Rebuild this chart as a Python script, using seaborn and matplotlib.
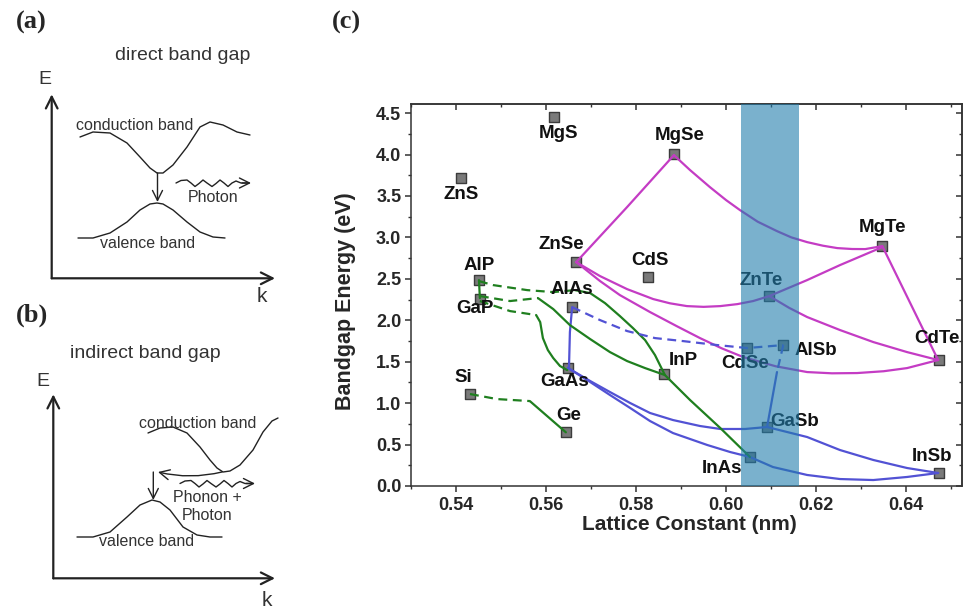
import matplotlib
matplotlib.use("Agg")
import matplotlib.pyplot as plt
from matplotlib.ticker import MultipleLocator, FormatStrFormatter
import seaborn as sns

# ---- panel (c) data: lattice constant (nm) / band gap (eV)
names = ["ZnS", "MgS", "MgSe", "ZnSe", "CdS", "AlP", "GaP", "AlAs", "MgTe", "ZnTe",
         "CdTe", "CdSe", "AlSb", "InP", "GaAs", "Si", "Ge", "GaSb", "InAs", "InSb"]
lattice = [0.5410, 0.5618, 0.5885, 0.5666, 0.5827, 0.5451, 0.5453, 0.5658, 0.6347, 0.6096,
           0.6473, 0.6046, 0.6127, 0.5863, 0.5648, 0.5431, 0.5644, 0.6090, 0.6053, 0.6472]
bandgap = [3.72, 4.45, 4.01, 2.70, 2.52, 2.48, 2.26, 2.16, 2.90, 2.29,
           1.52, 1.66, 1.70, 1.35, 1.42, 1.11, 0.648, 0.715, 0.354, 0.153]
# label offsets from marker (pixels, y up)
label_dx = [1, 4, 5, -14, 2, 0, -5, 0, 0, -8, -2, -2, 33, 19, -3, -7, 3, 28, -28, -7]
label_dy = [-17, -16, 18, 18, 17, 15, -10, 18, 18, 16, 22, -15, -5, 14, -13, 17, 17, 5, -12, 17]

# alloy curves
# II-VI (magenta)
znse_mgse = ([0.5667, 0.5780, 0.5884], [2.702, 3.366, 3.993])
mgse_mgte = ([0.5884, 0.5920, 0.5964, 0.6000, 0.6031, 0.6070, 0.6113, 0.6145, 0.6180,
              0.6215, 0.6247, 0.6280, 0.6309, 0.6347],
             [3.993, 3.812, 3.607, 3.450, 3.329, 3.190, 3.076, 3.000, 2.943,
              2.900, 2.871, 2.860, 2.859, 2.895])
znse_znte = ([0.5667, 0.5720, 0.5780, 0.5838, 0.5875, 0.5913, 0.5950, 0.5987, 0.6025, 0.6060, 0.6096],
             [2.702, 2.533, 2.376, 2.256, 2.205, 2.171, 2.162, 2.171, 2.195, 2.232, 2.292])
znse_cdte = ([0.5667, 0.5720, 0.5764, 0.5831, 0.5890, 0.5942, 0.5990, 0.6038, 0.6110, 0.6180,
              0.6235, 0.6291, 0.6350, 0.6402, 0.6471],
             [2.702, 2.473, 2.304, 2.099, 1.930, 1.785, 1.662, 1.556, 1.445, 1.375,
              1.360, 1.363, 1.385, 1.423, 1.520])
znte_mgte = ([0.6096, 0.6180, 0.6253, 0.6347], [2.292, 2.485, 2.666, 2.883])
znte_cdte = ([0.6096, 0.6140, 0.6180, 0.6253, 0.6327, 0.6402, 0.6471],
             [2.292, 2.150, 2.039, 1.882, 1.737, 1.616, 1.520])
mgte_cdte = ([0.6347, 0.6471], [2.895, 1.520])
# III-V antimonides / arsenides (blue)
alas_gaas = ([0.5658, 0.5653, 0.5651, 0.5648], [2.159, 1.858, 1.436, 1.420])
alas_alsb = ([0.5658, 0.5720, 0.5780, 0.5842, 0.5904, 0.5980, 0.6047, 0.6127],
             [2.159, 2.002, 1.870, 1.785, 1.749, 1.701, 1.665, 1.701])
alsb_gasb_ind = ([0.6127, 0.6113], [1.701, 1.375])
alsb_gasb = ([0.6113, 0.6091], [1.375, 0.712])
gaas_gasb = ([0.5649, 0.5698, 0.5742, 0.5787, 0.5831, 0.5882, 0.5942, 0.5987, 0.6042, 0.6091],
             [1.423, 1.267, 1.134, 1.001, 0.881, 0.796, 0.724, 0.688, 0.688, 0.712])
gaas_inas = ([0.5649, 0.5698, 0.5742, 0.5787, 0.5831, 0.5882, 0.5958, 0.6009, 0.6053],
             [1.423, 1.255, 1.098, 0.941, 0.784, 0.639, 0.495, 0.410, 0.350])
gasb_insb = ([0.6091, 0.6180, 0.6253, 0.6327, 0.6402, 0.6471],
             [0.712, 0.591, 0.434, 0.314, 0.217, 0.157])
inas_insb = ([0.6053, 0.6104, 0.6180, 0.6253, 0.6327, 0.6402, 0.6471],
             [0.350, 0.229, 0.133, 0.084, 0.072, 0.109, 0.157])
# group IV / phosphides (green)
si_ge_ind = ([0.5431, 0.5491, 0.5564], [1.110, 1.049, 1.025])
si_ge = ([0.5564, 0.5644], [1.025, 0.648])
alp_gap = ([0.5451, 0.5453], [2.485, 2.268])
alp_alas_ind = ([0.5451, 0.5482, 0.5558, 0.5616, 0.5664], [2.473, 2.425, 2.364, 2.340, 2.364])
alas_inas = ([0.5664, 0.5698, 0.5731, 0.5764, 0.5793, 0.5820, 0.5842, 0.5864, 0.5920, 0.5987, 0.6053],
             [2.364, 2.328, 2.207, 2.051, 1.906, 1.761, 1.580, 1.339, 1.037, 0.700, 0.350])
gap_inp_ind = ([0.5453, 0.5520, 0.5582], [2.292, 2.232, 2.268])
gap_inp = ([0.5582, 0.5616, 0.5653, 0.5698, 0.5742, 0.5780, 0.5820, 0.5864],
           [2.268, 2.135, 1.942, 1.773, 1.616, 1.508, 1.423, 1.339])
gap_gaas_ind = ([0.5453, 0.5520, 0.5578], [2.232, 2.111, 2.063])
gap_gaas = ([0.5578, 0.5587, 0.5593, 0.5604, 0.5616, 0.5631, 0.5647],
            [2.063, 1.978, 1.785, 1.641, 1.544, 1.448, 1.399])

band_window = (0.6032, 0.6161)

# ---- panels (a), (b): schematic band sketches, in figure pixels
cb_a = ([80, 93, 110, 127, 140, 150, 157, 163, 173, 187, 200, 210, 223, 237, 250],
        [137, 132, 133, 143, 157, 168, 173, 173, 165, 147, 127, 122, 125, 132, 135])
vb_a = ([78, 93, 110, 127, 140, 150, 157, 163, 173, 187, 200, 213, 225],
        [238, 238, 233, 222, 210, 204, 203, 204, 210, 222, 232, 237, 238])
cb_b = ([148, 160, 173, 187, 200, 210, 217, 223, 230, 240, 253, 263, 272, 278],
        [433, 428, 427, 433, 447, 460, 468, 472, 471, 465, 450, 432, 421, 418])
vb_b = ([77, 93, 110, 127, 140, 152, 160, 170, 183, 197, 210, 222],
        [537, 537, 532, 517, 505, 500, 502, 510, 527, 535, 537, 537])
wave_dx = [0, 5, 11, 15, 19, 23, 27, 31, 36, 40, 44, 48, 52, 56, 60, 65, 72]
wave_dy = [0, -2.5, -3, 0, 3.5, 0.5, -3, 0, 3.5, 0.5, -3, 0, 3.5, 0, -2, 0, 0]

MAG = "#c43cc4"
GRN = "#1f7f1f"
BLU = "#5252d4"

sns.set_theme(style="ticks")
plt.rcParams['font.family'] = ['Liberation Sans', 'DejaVu Sans']

fig = plt.figure(figsize=(9.64, 6.13), dpi=100)

# overlay for the sketches
sk = fig.add_axes([0, 0, 1, 1])
sk.set_xlim(0, 964)
sk.set_ylim(613, 0)
sk.axis('off')

ink = "#222222"
txt = "#333333"
head = dict(arrowstyle='->,head_length=0.7,head_width=0.35', lw=1.6, color=ink,
            shrinkA=0, shrinkB=0)
thin_head = dict(arrowstyle='->,head_length=0.6,head_width=0.3', lw=1.0, color=ink,
                 shrinkA=0, shrinkB=0)

for (ox, oy) in [(51.7, 278.3), (53.3, 578.3)]:
    sk.annotate('', xy=(ox, oy - 184), xytext=(ox, oy), arrowprops=head)
    sk.annotate('', xy=(275, oy), xytext=(ox, oy), arrowprops=head)

for cx, cy in [cb_a, vb_a, cb_b, vb_b]:
    sk.plot(cx, cy, color=ink, lw=1.0)

sk.annotate('', xy=(157.5, 202), xytext=(157.5, 173), arrowprops=thin_head)
sk.annotate('', xy=(153.3, 500), xytext=(153.3, 472), arrowprops=thin_head)
sk.annotate('', xy=(158, 472), xytext=(222, 472),
            arrowprops=dict(thin_head, connectionstyle='arc3,rad=-0.12'))

for bx, by in [(176, 183), (180, 483.5)]:
    sk.plot([bx + d for d in wave_dx], [by + d for d in wave_dy], color=ink, lw=1.0)
    sk.annotate('', xy=(bx + 75, by), xytext=(bx + 66, by), arrowprops=thin_head)

serif = ['Liberation Serif', 'DejaVu Serif']
sk.text(31.7, 22, "(a)", family=serif, fontweight='bold', fontsize=19, ha='center', va='center')
sk.text(31.7, 315, "(b)", family=serif, fontweight='bold', fontsize=19, ha='center', va='center')
fig.text(346 / 964, 1 - 22 / 613, "(c)", family=serif, fontweight='bold', fontsize=19,
         ha='center', va='center')

sk.text(183, 55, "direct band gap", fontsize=14, color=txt, ha='center', va='center')
sk.text(145, 353, "indirect band gap", fontsize=14, color=txt, ha='center', va='center')
for ex, ey in [(45, 80), (43.3, 381.7)]:
    sk.text(ex, ey, "E", fontsize=14, color=txt, ha='center', va='center')
for kx, ky in [(262, 296), (266.7, 601)]:
    sk.text(kx, ky, "k", fontsize=15, color=txt, ha='center', va='center')
sk.text(135, 125, "conduction band", fontsize=11.5, color=txt, ha='center', va='center')
sk.text(148, 243, "valence band", fontsize=11.5, color=txt, ha='center', va='center')
sk.text(213, 197, "Photon", fontsize=11.5, color=txt, ha='center', va='center')
sk.text(198, 423, "conduction band", fontsize=11.5, color=txt, ha='center', va='center')
sk.text(207, 498, "Phonon +", fontsize=11.5, color=txt, ha='center', va='center')
sk.text(207, 515, "Photon", fontsize=11.5, color=txt, ha='center', va='center')
sk.text(147, 541.7, "valence band", fontsize=11.5, color=txt, ha='center', va='center')

# ---- panel (c)
ax = fig.add_axes([411 / 964, 1 - 486 / 613, (962 - 411) / 964, (486 - 104) / 613])

solid = [(znse_mgse, MAG), (mgse_mgte, MAG), (znse_znte, MAG), (znse_cdte, MAG),
         (znte_mgte, MAG), (znte_cdte, MAG), (mgte_cdte, MAG),
         (alas_gaas, BLU), (alsb_gasb, BLU), (gaas_gasb, BLU), (gaas_inas, BLU),
         (gasb_insb, BLU), (inas_insb, BLU),
         (si_ge, GRN), (alp_gap, GRN), (alas_inas, GRN), (gap_inp, GRN), (gap_gaas, GRN)]
dashed = [(alas_alsb, BLU), (alsb_gasb_ind, BLU),
          (si_ge_ind, GRN), (alp_alas_ind, GRN), (gap_inp_ind, GRN), (gap_gaas_ind, GRN)]

for (cx, cy), c in solid:
    ax.plot(cx, cy, color=c, lw=1.6, zorder=4, solid_capstyle='round', solid_joinstyle='round')
for (cx, cy), c in dashed:
    ax.plot(cx, cy, color=c, lw=1.6, zorder=4, dashes=(4, 2.5))

sns.scatterplot(x=lattice, y=bandgap, marker='s', s=62, color='#7a7a7a',
                edgecolor='#3c3c3c', linewidth=1.0, zorder=3, ax=ax)

for n, lx, ly, dx, dy in zip(names, lattice, bandgap, label_dx, label_dy):
    ax.annotate(n, (lx, ly), xytext=(dx * 0.72, dy * 0.72), textcoords='offset points',
                ha='center', va='center', fontsize=13.5, fontweight='bold',
                color='#111111', zorder=4)

ax.axvspan(*band_window, color='#217dac', alpha=0.6, lw=0, zorder=6)

ax.set_xlim(0.530, 0.6524)
ax.set_ylim(0, 4.61)
ax.xaxis.set_major_locator(MultipleLocator(0.02))
ax.xaxis.set_minor_locator(MultipleLocator(0.01))
ax.xaxis.set_major_formatter(FormatStrFormatter('%.2f'))
ax.yaxis.set_major_locator(MultipleLocator(0.5))
ax.yaxis.set_minor_locator(MultipleLocator(0.25))
ax.yaxis.set_major_formatter(FormatStrFormatter('%.1f'))
ax.tick_params(which='major', direction='out', length=4, width=1.1, color='#333333',
               labelsize=13, pad=3)
ax.tick_params(axis='x', which='major', pad=4)
ax.tick_params(which='minor', direction='out', length=2.5, width=1.0, color='#333333')
for lab in ax.get_xticklabels() + ax.get_yticklabels():
    lab.set_fontweight('bold')

top = ax.secondary_xaxis('top')
top.xaxis.set_major_locator(MultipleLocator(0.02))
top.xaxis.set_minor_locator(MultipleLocator(0.01))
top.tick_params(which='both', direction='in', labeltop=False, color='#333333')
top.tick_params(which='major', length=4, width=1.1)
top.tick_params(which='minor', length=2.5, width=1.0)
rgt = ax.secondary_yaxis('right')
rgt.yaxis.set_major_locator(MultipleLocator(0.5))
rgt.yaxis.set_minor_locator(MultipleLocator(0.25))
rgt.tick_params(which='both', direction='in', labelright=False, color='#333333')
rgt.tick_params(which='major', length=4, width=1.1)
rgt.tick_params(which='minor', length=2.5, width=1.0)

for a in (ax, top, rgt):
    for sp in a.spines.values():
        sp.set_linewidth(1.1)
        sp.set_color('#333333')

ax.set_xlabel("Lattice Constant (nm)", fontsize=15, fontweight='bold', va='center')
ax.set_ylabel("Bandgap Energy (eV)", fontsize=15.5, fontweight='bold', va='center')
ax.xaxis.set_label_coords(0.506, -0.102)
ax.yaxis.set_label_coords(-0.118, 0.484)

fig.savefig("out.png", dpi=100)
